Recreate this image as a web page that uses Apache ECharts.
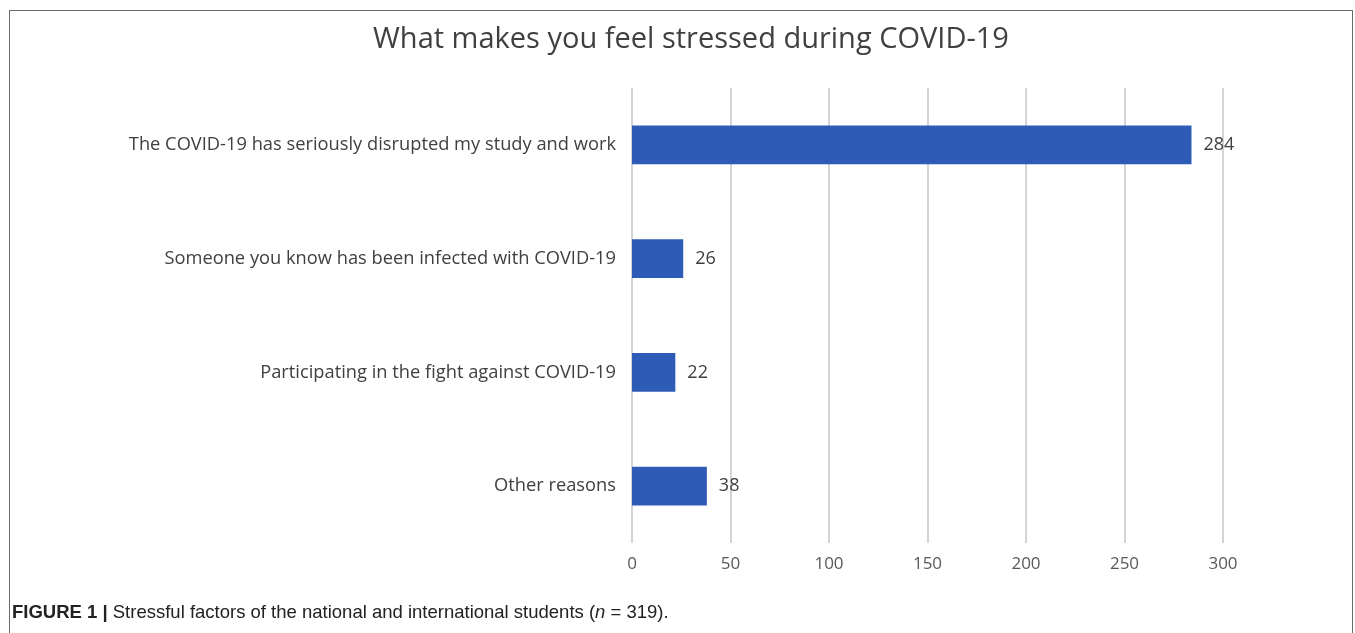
<!DOCTYPE html>
<html>
<head>
<meta charset="utf-8">
<script src="https://cdn.jsdelivr.net/npm/echarts@6/dist/echarts.min.js"></script>
<style>
  html, body { margin: 0; padding: 0; background: #fff; }
  #frame {
    position: absolute; left: 9px; top: 10px; width: 1344px; height: 640px;
    border: 1.5px solid #6a6a6a; box-sizing: border-box;
  }
  #chart { position: absolute; left: 0; top: 0; width: 1355px; height: 633px; }
  #caption {
    position: absolute; left: 12px; top: 601px;
    font-family: "Liberation Sans Narrow", "Liberation Sans", Arial, sans-serif;
    font-size: 18.5px; color: #222;
  }
  #caption b { font-weight: bold; }
</style>
</head>
<body>
<div id="frame"></div>
<div id="chart"></div>
<div id="caption"><b>FIGURE 1 |</b> Stressful factors of the national and international students (<i>n</i> = 319).</div>
<script>
// data
const categories = [
  'The COVID-19 has seriously disrupted my study and work',
  'Someone you know has been infected with COVID-19',
  'Participating in the fight against COVID-19',
  'Other reasons'
];
const counts = [284, 26, 22, 38];
const titleText = 'What makes you feel stressed during COVID-19';

const chart = echarts.init(document.getElementById('chart'));

const option = {
  animation: false,
  title: {
    text: titleText,
    left: 686,
    top: 20,
    textAlign: 'center',
    textStyle: {
      fontFamily: 'Open Sans, Noto Sans, sans-serif',
      fontSize: 29,
      fontWeight: 'normal',
      color: '#404040'
    }
  },
  grid: {
    left: 632,
    right: 132,
    top: 88,
    bottom: 90,
    containLabel: false
  },
  xAxis: {
    type: 'value',
    min: 0,
    max: 300,
    interval: 50,
    axisLine: { show: false },
    axisTick: { show: false },
    splitLine: { lineStyle: { color: '#d4d4d4', width: 2 } },
    axisLabel: {
      margin: 13,
      fontFamily: 'Open Sans, Noto Sans, sans-serif',
      fontSize: 17,
      color: '#595959'
    }
  },
  yAxis: {
    type: 'category',
    data: categories,
    inverse: true,
    axisLine: { show: false },
    axisTick: { show: false },
    axisLabel: {
      margin: 16,
      fontFamily: 'Open Sans, Noto Sans, sans-serif',
      fontSize: 18.3,
      color: '#404040'
    }
  },
  series: [{
    type: 'bar',
    data: counts,
    barWidth: '34%',
    itemStyle: { color: '#2e5bb5' },
    label: {
      show: true,
      position: 'right',
      distance: 12,
      fontFamily: 'Open Sans, Noto Sans, sans-serif',
      fontSize: 18,
      color: '#404040'
    }
  }]
};

chart.setOption(option);
</script>
</body>
</html>
